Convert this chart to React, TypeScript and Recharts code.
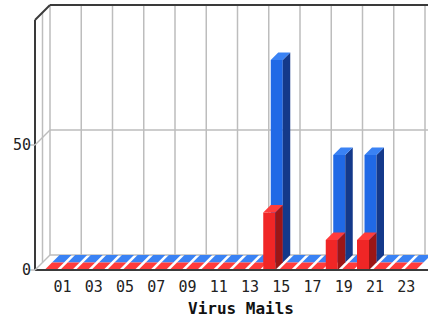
import { Bar, BarChart, CartesianGrid, XAxis, YAxis } from "recharts";

// hourly counts, 00..23
const hours = [
  "00", "01", "02", "03", "04", "05", "06", "07", "08", "09", "10", "11",
  "12", "13", "14", "15", "16", "17", "18", "19", "20", "21", "22", "23",
];
const blueCounts = [0, 0, 0, 0, 0, 0, 0, 0, 0, 0, 0, 0, 0, 0, 81, 0, 0, 0, 43, 0, 43, 0, 0, 0];
const redCounts = [0, 0, 0, 0, 0, 0, 0, 0, 0, 0, 0, 0, 0, 0, 23, 0, 0, 0, 12, 0, 12, 0, 0, 0];
const yTicks = [0, 50, 100];

const data = hours.map((hour, i) => ({ hour, blue: blueCounts[i], red: redCounts[i] }));

// layout
const W = 428;
const H = 321;
const LEFT = 35;
const TOP = 20;
const BASE = 270;
const RIGHT_PAD = 18;
const DEPTH = 7.5;
const BAND = (W - LEFT - RIGHT_PAD) / hours.length;

const BACK_LEFT = LEFT + 2 * DEPTH;
const BACK_TOP = TOP - 2 * DEPTH;
const BACK_BOTTOM = BASE - 2 * DEPTH;
const backVerticals = Array.from({ length: hours.length / 2 + 1 }, (_, k) => BACK_LEFT + 2 * k * BAND);

const AXIS = "#3a3a3a";
const GRID = "#bdbdbd";
const FONT = "'DejaVu Sans Mono', monospace";

const makeBox = (face: string, top: string, side: string, sx: number, sy: number) => (props: any) => {
  const { x, y, width, height } = props;
  const x0 = x + sx;
  const x1 = x0 + width;
  const yt = y + sy;
  const yb = y + height + sy;
  const d = DEPTH;
  return (
    <g>
      {height > 0 && <rect x={x0} y={yt} width={width} height={height} fill={face} />}
      {height > 0 && (
        <polygon points={`${x1},${yt} ${x1 + d},${yt - d} ${x1 + d},${yb - d} ${x1},${yb}`} fill={side} />
      )}
      <polygon points={`${x0},${yt} ${x1},${yt} ${x1 + d},${yt - d} ${x0 + d},${yt - d}`} fill={top} />
    </g>
  );
};

const BlueBox = makeBox("#2069e6", "#3a82f4", "#14398a", 2 * DEPTH, -DEPTH);
const RedBox = makeBox("#f02626", "#ff3c3c", "#9c1616", DEPTH, 0);

function HourTick({ x, y, payload }: any) {
  if (payload.index % 2 === 0) return null;
  return (
    <text x={x + 4} y={y + 22} textAnchor="middle" fontFamily={FONT} fontSize={15} fill="#222">
      {payload.value}
    </text>
  );
}

function ValueTick({ x, y, payload }: any) {
  const isTop = payload.value === yTicks[yTicks.length - 1];
  return (
    <g>
      <line
        x1={x}
        y1={y}
        x2={x + 2 * DEPTH}
        y2={y - 2 * DEPTH}
        stroke={isTop ? AXIS : GRID}
        strokeWidth={isTop ? 2 : 1.5}
      />
      {!isTop && (
        <>
          <line x1={x - 5} y1={y} x2={x} y2={y} stroke={GRID} strokeWidth={1.5} />
          <text x={x - 4} y={y + 5} textAnchor="end" fontFamily={FONT} fontSize={15} fill="#222">
            {payload.value}
          </text>
        </>
      )}
    </g>
  );
}

export default function App() {
  return (
    <div style={{ position: "absolute", left: 0, top: 0, width: W, height: H, background: "#fff" }}>
      <BarChart
        width={W}
        height={H}
        data={data}
        margin={{ top: TOP, right: 0, bottom: H - BASE - 30, left: 0 }}
        barSize={12}
      >
        {/* back wall */}
        <CartesianGrid
          x={BACK_LEFT}
          y={BACK_TOP}
          width={W - BACK_LEFT}
          height={BACK_BOTTOM - BACK_TOP}
          horizontalPoints={[(BACK_TOP + BACK_BOTTOM) / 2, BACK_BOTTOM]}
          verticalPoints={backVerticals}
          stroke={GRID}
          strokeWidth={1.5}
        />
        <CartesianGrid
          x={LEFT + DEPTH}
          y={TOP - DEPTH}
          width={W - LEFT - DEPTH}
          height={BASE - TOP}
          horizontal={false}
          verticalPoints={[LEFT + DEPTH]}
          stroke={GRID}
          strokeWidth={1.5}
        />
        <CartesianGrid
          x={BACK_LEFT}
          y={BACK_TOP}
          width={W - BACK_LEFT}
          height={BACK_BOTTOM - BACK_TOP}
          vertical={false}
          horizontalPoints={[BACK_TOP]}
          stroke={AXIS}
          strokeWidth={2}
        />
        <XAxis
          xAxisId="front"
          dataKey="hour"
          height={30}
          padding={{ left: 0, right: RIGHT_PAD }}
          interval={0}
          tickSize={0}
          tickMargin={0}
          tick={<HourTick />}
          axisLine={{ stroke: AXIS, strokeWidth: 2 }}
        />
        <XAxis
          xAxisId="back"
          dataKey="hour"
          hide
          height={0}
          padding={{ left: 0, right: RIGHT_PAD }}
        />
        <YAxis
          width={LEFT}
          domain={[0, 100]}
          ticks={yTicks}
          tickSize={0}
          tickMargin={0}
          tick={<ValueTick />}
          axisLine={{ stroke: AXIS, strokeWidth: 2 }}
        />
        <Bar dataKey="blue" xAxisId="back" shape={BlueBox} isAnimationActive={false} />
        <Bar dataKey="red" xAxisId="front" shape={RedBox} isAnimationActive={false} />
      </BarChart>
      <div
        style={{
          position: "absolute",
          left: 141,
          top: 301,
          width: 200,
          textAlign: "center",
          fontFamily: FONT,
          fontWeight: "bold",
          fontSize: 16,
          lineHeight: "16px",
          color: "#111",
        }}
      >
        Virus Mails
      </div>
    </div>
  );
}
